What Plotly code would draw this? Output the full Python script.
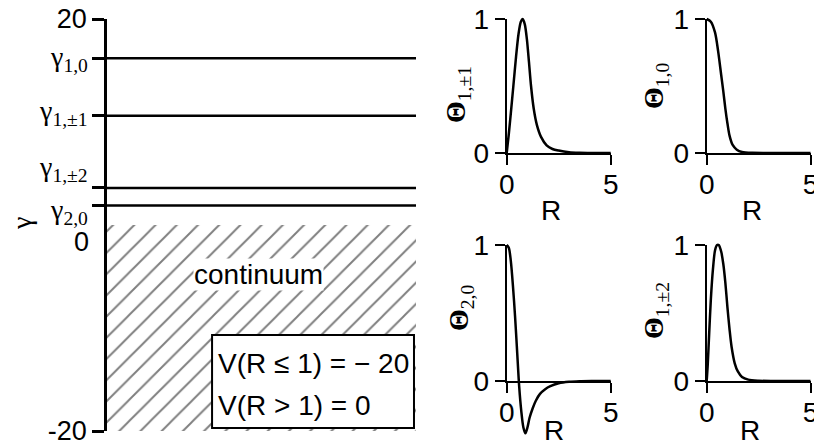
import plotly.graph_objects as go

# ---- energy levels of the bound states (left panel) ----
gamma_range = [-20, 20]
continuum_top = 0
level_names = ["γ<sub>1,0</sub>", "γ<sub>1,±1</sub>", "γ<sub>1,±2</sub>", "γ<sub>2,0</sub>"]
level_values = [16.2, 10.6, 3.6, 1.9]
level_label_shift = [0, 3, 19, -6]  # px nudges so the crowded labels stay apart

# ---- radial wavefunctions Θ(R) (right panels) ----
R_1pm1 = [0, 0.1, 0.2, 0.32, 0.45, 0.57, 0.68, 0.77, 0.87, 0.97, 1.07, 1.17, 1.3, 1.45,
          1.65, 1.92, 2.2, 2.5, 3.0, 3.5, 4.2, 5.0]
th_1pm1 = [0, 0.14, 0.30, 0.50, 0.72, 0.89, 0.98, 1.0, 0.96, 0.85, 0.68, 0.50, 0.33, 0.21,
           0.12, 0.057, 0.03, 0.018, 0.006, 0.002, 0.0005, 0]

R_10 = [0, 0.2, 0.4, 0.55, 0.7, 0.8, 0.9, 1.0, 1.1, 1.25, 1.45, 1.7, 2.2, 3.0, 5.0]
th_10 = [1.0, 0.98, 0.90, 0.76, 0.58, 0.46, 0.33, 0.22, 0.13, 0.06, 0.025, 0.008, 0.001, 0, 0]

R_20 = [0, 0.1, 0.2, 0.3, 0.4, 0.5, 0.6, 0.7, 0.8, 0.9, 1.0, 1.1, 1.25, 1.4, 1.6, 1.85,
        2.1, 2.5, 3.0, 3.5, 4.2, 5.0]
th_20 = [1.0, 0.98, 0.88, 0.70, 0.48, 0.22, -0.04, -0.22, -0.34, -0.385, -0.34, -0.27,
         -0.20, -0.145, -0.095, -0.06, -0.038, -0.017, -0.006, -0.002, -0.0005, 0]

R_1pm2 = [0, 0.05, 0.12, 0.2, 0.3, 0.4, 0.5, 0.58, 0.7, 0.8, 0.9, 1.0, 1.1, 1.2, 1.35,
          1.5, 1.7, 2.0, 2.5, 3.2, 5.0]
th_1pm2 = [0, 0.12, 0.35, 0.60, 0.82, 0.96, 1.0, 1.0, 0.95, 0.86, 0.72, 0.54, 0.38, 0.25,
           0.13, 0.07, 0.03, 0.01, 0.002, 0, 0]

R_ticks = [0, 5]
theta_ticks = [0, 1]

W, H = 814, 443
SANS = "Arial, Liberation Sans, sans-serif"
SERIF = "Times New Roman, Liberation Serif, serif"


def fx(p):
    return p / W


def fy(p):
    return 1 - p / H


fig = go.Figure()
layout = dict(
    width=W, height=H, margin=dict(l=0, r=0, t=0, b=0, autoexpand=False),
    paper_bgcolor="white", plot_bgcolor="rgba(0,0,0,0)",
    showlegend=False, annotations=[], shapes=[],
)

# ---------------- left panel: level diagram ----------------
fig.add_trace(go.Scatter(
    x=[0, 1, 1, 0, 0],
    y=[continuum_top, continuum_top, gamma_range[0], gamma_range[0], continuum_top],
    mode="lines", fill="toself", line=dict(width=0), fillcolor="black",
    fillpattern=dict(shape="/", size=15, solidity=0.13, fgcolor="black", bgcolor="white"),
    hoverinfo="skip", xaxis="x", yaxis="y",
))
for v in level_values:
    fig.add_trace(go.Scatter(
        x=[0, 1], y=[v, v], mode="lines", line=dict(color="black", width=2.5),
        hoverinfo="skip", xaxis="x", yaxis="y",
    ))

layout["xaxis"] = dict(domain=[fx(107), fx(416)], range=[0, 1], visible=False,
                       anchor="y", fixedrange=True, automargin=False)
layout["yaxis"] = dict(
    domain=[fy(431), fy(19)], range=gamma_range, anchor="x", automargin=False,
    tickvals=[gamma_range[1], *level_values, gamma_range[0]],
    ticktext=[str(gamma_range[1])] + [""] * len(level_values) + [str(gamma_range[0])],
    ticks="outside", ticklen=12, tickwidth=2.5, tickcolor="black",
    showline=True, linewidth=2.5, linecolor="black",
    showgrid=False, zeroline=False, fixedrange=True, ticklabeloverflow="allow",
    tickfont=dict(family=SANS, size=27, color="black"),
)

for name, v, dy in zip(level_names, level_values, level_label_shift):
    layout["annotations"].append(dict(
        text=name, xref="paper", x=fx(90), xanchor="right", yref="y", y=v,
        yanchor="middle", yshift=dy, showarrow=False,
        font=dict(family=SERIF, size=28, color="black"),
    ))
layout["annotations"].append(dict(
    text=str(continuum_top), xref="paper", x=fx(91), xanchor="right", yref="y",
    y=continuum_top, yanchor="middle", yshift=-17, showarrow=False,
    font=dict(family=SANS, size=27, color="black"),
))
layout["annotations"].append(dict(
    text="γ", xref="paper", x=fx(21), xanchor="center", yref="paper", y=fy(224),
    yanchor="middle", textangle=-90, showarrow=False,
    font=dict(family=SERIF, size=28, color="black"),
))
layout["annotations"].append(dict(
    text="continuum", xref="x domain", x=0.489, yref="y domain", y=0.379,
    xanchor="center", yanchor="middle", showarrow=False, bgcolor="white", borderpad=0,
    font=dict(family=SANS, size=28, color="black"),
))
# potential legend box
layout["shapes"].append(dict(
    type="rect", xref="x domain", yref="y domain", x0=0.340, x1=0.9935, y0=0.0073, y1=0.233,
    line=dict(color="black", width=2), fillcolor="white", layer="above",
))
for txt, yd in [("V(R ≤ 1) = − 20", 0.165), ("V(R > 1) = 0", 0.061)]:
    layout["annotations"].append(dict(
        text=txt, xref="x domain", x=0.352, xanchor="left", yref="y domain", y=yd,
        yanchor="middle", showarrow=False,
        font=dict(family=SANS, size=28, color="black"),
    ))

# ---------------- right panels: wavefunctions ----------------
panels = [
    # sub, R, Θ, x-pixels (0 -> 5), y-pixels (1 -> 0), label centre, R-title centre, low limit
    ("1,±1", R_1pm1, th_1pm1, (506.7, 610.7), (19, 153), (457, 95), (551, 210), -0.06),
    ("1,0", R_10, th_10, (706.7, 810.5), (19, 153), (655, 86), (752, 210), -0.06),
    ("2,0", R_20, th_20, (506.7, 610.7), (245, 381), (460, 308), (554, 430), -0.45),
    ("1,±2", R_1pm2, th_1pm2, (706.7, 810.5), (245, 381), (655, 311), (750, 430), -0.06),
]

axis_font = dict(family=SANS, size=28, color="black")
for i, (sub, R, th, (xa, xb), (ya, yb), (lx, ly), (rx, ry), lo) in enumerate(panels):
    n = 2 + i          # visible frame axes
    m = 6 + i          # unclipped axes that carry the curve
    common = dict(ticks="outside", ticklen=10, tickwidth=2, tickcolor="black",
                  showline=True, linewidth=2, linecolor="black", showgrid=False,
                  zeroline=False, tickfont=axis_font, fixedrange=True, automargin=False,
                  ticklabeloverflow="allow")
    layout[f"xaxis{n}"] = dict(
        domain=[fx(xa), fx(xb)], range=[R_ticks[0], R_ticks[-1]], anchor=f"y{n}",
        tickvals=R_ticks, ticklabelstandoff=-5, **common,
    )
    layout[f"yaxis{n}"] = dict(
        domain=[fy(yb), fy(ya)], range=[theta_ticks[0], theta_ticks[-1]], anchor=f"x{n}",
        tickvals=theta_ticks, **common,
    )
    # empty trace so the frame subplot is drawn
    fig.add_trace(go.Scatter(x=[], y=[], mode="lines", hoverinfo="skip",
                             xaxis=f"x{n}", yaxis=f"y{n}"))
    pxR = (xb - xa) / 5.0
    pxT = (yb - ya) / 1.0
    xlo, xhi, yhi = -0.2, 5.1, 1.06
    layout[f"xaxis{m}"] = dict(
        domain=[fx(xa + xlo * pxR), fx(xb + (xhi - 5) * pxR)], range=[xlo, xhi],
        anchor=f"y{m}", visible=False, fixedrange=True, automargin=False,
    )
    layout[f"yaxis{m}"] = dict(
        domain=[fy(yb - lo * pxT), fy(ya - (yhi - 1) * pxT)], range=[lo, yhi],
        anchor=f"x{m}", visible=False, fixedrange=True, automargin=False,
    )
    fig.add_trace(go.Scatter(
        x=R, y=th, mode="lines", line=dict(color="black", width=2.5, shape="spline", smoothing=0.8),
        hoverinfo="skip", xaxis=f"x{m}", yaxis=f"y{m}",
    ))
    layout["annotations"].append(dict(
        text=f"<b>Θ</b><sub>{sub}</sub>", xref="paper", x=fx(lx), xanchor="center",
        yref="paper", y=fy(ly), yanchor="middle",
        textangle=-90, showarrow=False, font=dict(family=SERIF, size=28, color="black"),
    ))
    layout["annotations"].append(dict(
        text="R", xref="paper", x=fx(rx), yref="paper", y=fy(ry),
        xanchor="center", yanchor="middle", showarrow=False, font=axis_font,
    ))

fig.update_layout(**layout)
fig.write_html("out.html")
